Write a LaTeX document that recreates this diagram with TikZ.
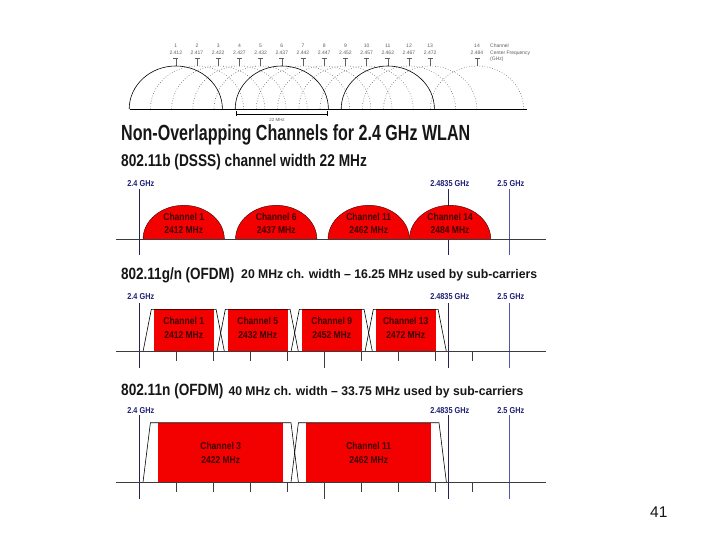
\documentclass[tikz,border=0pt]{standalone}
\usepackage{fontspec}
\usepackage{graphicx}
\setmainfont{Liberation Sans}
\newfontfamily\nar[FakeStretch=0.85]{Liberation Sans}
\definecolor{chred}{RGB}{243,0,0}
\definecolor{chtxt}{RGB}{62,0,0}
\definecolor{lblnavy}{RGB}{30,30,115}
\definecolor{lnnavy}{RGB}{35,35,85}
\definecolor{lnblue}{RGB}{85,85,175}
\definecolor{tickgray}{RGB}{60,60,60}
\definecolor{topgray}{RGB}{95,95,95}
\definecolor{titleblack}{RGB}{22,22,22}
\newcommand\fitto[3]{\resizebox{#1pt}{\height}{\fontsize{#2}{#2}\selectfont\bfseries #3}}
\tikzset{
  toplbl/.style={font={\fontsize{5}{5}\selectfont}, text=topgray, inner sep=0},
  topmark/.style={topgray, line width=0.5pt},
  solidarc/.style={black, line width=0.6pt},
  dotarc/.style={topgray, line width=0.6pt, dotted},
  ttl/.style={anchor=base west, inner sep=0, text=titleblack},
  freqlbl/.style={font={\nar\bfseries\fontsize{8.6}{8.6}\selectfont}, text=lblnavy, inner sep=0},
  chlbl/.style={font={\nar\bfseries\fontsize{10}{10}\selectfont}, text=chtxt, inner sep=0},
  bdome/.style={fill=chred, draw=chtxt, line width=0.4pt},
  redband/.style={fill=chred, draw=none},
  trap/.style={black, line width=0.6pt},
  axis/.style={tickgray, line width=0.8pt},
  tickmark/.style={tickgray, line width=0.7pt},
  bigtick/.style={tickgray, line width=1.3pt},
  lowline/.style={lnnavy, line width=0.8pt},
  highline/.style={lnblue, line width=0.8pt}
}
\begin{document}
\begin{tikzpicture}[x=1pt,y=-1pt,
  declare function={fx(\f)=139.3+3.7*(\f-2400);}]
\useasboundingbox (0,0) rectangle (720,540);
\fill[white] (0,0) rectangle (720,540);

% ---------------- top: overlapping channels ----------------
\foreach \n/\fr in {1/2.412,2/2.417,3/2.422,4/2.427,5/2.432,6/2.437,7/2.442,8/2.447,9/2.452,10/2.457,11/2.462,12/2.467,13/2.472}{
  \pgfmathsetmacro\cx{175.8+21.2*(\n-1)}
  \node[toplbl] (cn\n) at (\cx,45.5) {\n};
  \node[toplbl] (cf\n) at (\cx,53) {\fr};
  \draw[topmark] (\cx-2.5,58.7) -- (\cx+2.5,58.7) (\cx,58.7) -- (\cx,66);
}
\node[toplbl] (cn14) at (477,45.5) {14};
\node[toplbl] (cf14) at (477,53) {2.484};
\draw[topmark] (474.5,58.7) -- (479.5,58.7) (477,58.7) -- (477,66);
\node[toplbl, anchor=west] (lg1) at (490,45.5) {Channel};
\node[toplbl, anchor=west] (lg2) at (490,53) {Center Frequency};
\node[toplbl, anchor=west] (lg3) at (490,59.5) {(GHz)};

\foreach \n in {2,3,4,5,7,8,9,10,12,13}{
  \pgfmathsetmacro\cx{175.8+21.2*(\n-1)}
  \draw[dotarc] (\cx-46.6,109) arc[start angle=180,end angle=0,x radius=46.6pt,y radius=43pt];
}
\draw[dotarc] (430.4,109) arc[start angle=180,end angle=0,x radius=46.6pt,y radius=43pt];
\foreach \n in {1,6,11}{
  \pgfmathsetmacro\cx{175.8+21.2*(\n-1)}
  \draw[solidarc] (\cx-46.6,109) arc[start angle=180,end angle=0,x radius=46.6pt,y radius=43pt];
}
\draw[axis, black] (130,109) -- (527,109);
\draw[black, line width=0.5pt] (236.7,114) -- (327.3,114)
  (236.7,111.5) -- (236.7,116.5) (327.3,111.5) -- (327.3,116.5);
\node[toplbl, font={\fontsize{4.5}{4.5}\selectfont}] (dim) at (277,120) {22 MHz};

% ---------------- titles ----------------
\node[ttl] (title) at (121,140.7) {\fitto{349}{21.9}{Non-Overlapping Channels for 2.4 GHz WLAN}};
\node[ttl] (subb) at (121,166.7) {\fitto{245.7}{17}{802.11b (DSSS) channel width 22 MHz}};

% ---------------- 802.11b ----------------
\node[freqlbl] (b24) at ({fx(2400)+1.5},183.7) {2.4 GHz};
\node[freqlbl] (b248) at ({fx(2483.5)+1.5},183.7) {2.4835 GHz};
\node[freqlbl] (b25) at ({fx(2500)+1.5},183.7) {2.5 GHz};
\draw[lowline] ({fx(2400)},189) -- ({fx(2400)},255);
\draw[lowline] ({fx(2483.5)},189) -- ({fx(2483.5)},255);
\draw[highline] ({fx(2500)},189) -- ({fx(2500)},255);
\foreach \c/\n in {2412/1,2437/6,2462/11,2484/14}{
  \filldraw[bdome] ({fx(\c-11)},239.3) arc[start angle=180,end angle=0,x radius=40.7pt,y radius=34pt] -- cycle;
  \node[chlbl] (bch\n) at ({fx(\c)},216.7) {Channel \n};
  \node[chlbl] (bfr\n) at ({fx(\c)},230) {\c\ MHz};
}
\draw[axis] (116,239.3) -- (546,239.3);

% ---------------- 802.11g/n ----------------
\node[ttl] (subg) at (121,279) {\fitto{113.3}{16.3}{802.11g/n (OFDM)}};
\node[ttl] (subg2) at (241,279) {\fitto{296}{12.6}{20 MHz ch. width -- 16.25 MHz used by sub-carriers}};
\node[freqlbl] (g24) at ({fx(2400)+1.5},296.7) {2.4 GHz};
\node[freqlbl] (g248) at ({fx(2483.5)+1.5},296.7) {2.4835 GHz};
\node[freqlbl] (g25) at ({fx(2500)+1.5},296.7) {2.5 GHz};
\draw[lowline] ({fx(2400)},303) -- ({fx(2400)},367.7);
\draw[lowline] ({fx(2483.5)},303) -- ({fx(2483.5)},367.7);
\draw[highline] ({fx(2500)},303) -- ({fx(2500)},367.7);
\foreach \c/\n in {2412/1,2432/5,2452/9,2472/13}{
  \fill[redband] ({fx(\c-8.125)},309.3) rectangle ({fx(\c+8.125)},351.7);
  \draw[trap] ({fx(\c-11)},351.7) -- ({fx(\c-8.75)},309.3) -- ({fx(\c+8.75)},309.3) -- ({fx(\c+11)},351.7);
  \node[chlbl] (gch\n) at ({fx(\c)},321) {Channel \n};
  \node[chlbl] (gfr\n) at ({fx(\c)},335) {\c\ MHz};
}
\draw[axis] (116,351.7) -- (546,351.7);
\foreach \f in {2410,2420,2430,2440,2460,2470,2480,2490}
  \draw[tickmark] ({fx(\f)},351.7) -- ({fx(\f)},361);
\draw[bigtick] ({fx(2450)},351.7) -- ({fx(2450)},367.7);

% ---------------- 802.11n ----------------
\node[ttl] (subn) at (121,395) {\fitto{102.3}{16.3}{802.11n (OFDM)}};
\node[ttl] (subn2) at (228.3,395) {\fitto{295}{12.6}{40 MHz ch. width -- 33.75 MHz used by sub-carriers}};
\node[freqlbl] (n24) at ({fx(2400)+1.5},410.7) {2.4 GHz};
\node[freqlbl] (n248) at ({fx(2483.5)+1.5},410.7) {2.4835 GHz};
\node[freqlbl] (n25) at ({fx(2500)+1.5},410.7) {2.5 GHz};
\draw[lowline] ({fx(2400)},415) -- ({fx(2400)},499);
\draw[lowline] ({fx(2483.5)},415) -- ({fx(2483.5)},499);
\draw[highline] ({fx(2500)},415) -- ({fx(2500)},499);
\foreach \c/\n in {2422/3,2462/11}{
  \fill[redband] ({fx(\c-16.875)},422.7) rectangle ({fx(\c+16.875)},482.3);
  \draw[trap] ({fx(\c-21)},482.3) -- ({fx(\c-19)},422.7) -- ({fx(\c+19)},422.7) -- ({fx(\c+21)},482.3);
  \node[chlbl] (nch\n) at ({fx(\c)},446) {Channel \n};
  \node[chlbl] (nfr\n) at ({fx(\c)},460) {\c\ MHz};
}
\draw[axis] (116,482.3) -- (546,482.3);
\foreach \f in {2410,2420,2430,2440,2460,2470,2480,2490}
  \draw[tickmark] ({fx(\f)},482.3) -- ({fx(\f)},491.7);
\draw[bigtick] ({fx(2450)},482.3) -- ({fx(2450)},499);

% ---------------- page number ----------------
\node[anchor=base west, inner sep=0, text=titleblack, font={\fontsize{15.5}{15.5}\selectfont}] (pg) at (650,517.7) {41};
\end{tikzpicture}
\end{document}
